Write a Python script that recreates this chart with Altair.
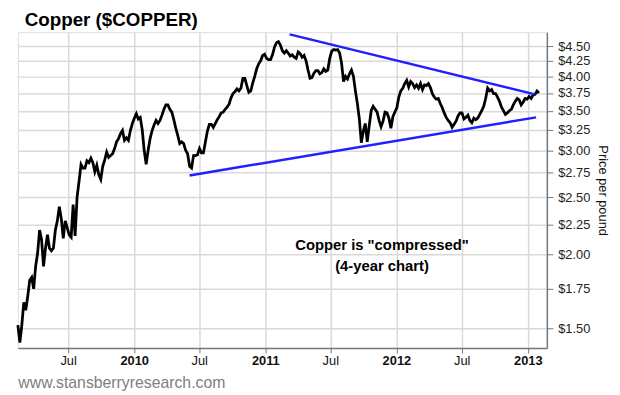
import altair as alt
import pandas as pd

# ---- data ----
start_date = "2009-02-11"
end_date = "2013-02-01"
prices = [
    1.52, 1.42, 1.52, 1.66, 1.61, 1.70, 1.81, 1.83, 1.75, 1.91,
    2.01, 2.20, 2.12, 1.91, 2.05, 2.16, 2.05, 2.03, 2.05, 2.20,
    2.28, 2.41, 2.30, 2.13, 2.28, 2.22, 2.16, 2.14, 2.43, 2.15,
    2.50, 2.66, 2.84, 2.80, 2.80, 2.88, 2.86, 2.91, 2.86, 2.76,
    2.83, 2.73, 2.68, 2.82, 2.89, 2.98, 2.92, 2.94, 2.96, 3.02,
    3.10, 3.14, 3.20, 3.24, 3.12, 3.15, 3.12, 3.24, 3.33, 3.40,
    3.46, 3.39, 3.41, 3.25, 3.00, 2.84, 3.00, 3.14, 3.24, 3.31,
    3.37, 3.33, 3.37, 3.44, 3.52, 3.58, 3.58, 3.52, 3.48, 3.38,
    3.27, 3.18, 3.08, 3.10, 3.08, 3.00, 2.96, 2.82, 2.80, 2.94,
    2.94, 2.95, 3.02, 2.97, 2.97, 3.10, 3.23, 3.32, 3.32, 3.28,
    3.33, 3.38, 3.42, 3.47, 3.48, 3.52, 3.55, 3.59, 3.68, 3.74,
    3.77, 3.81, 3.78, 3.82, 3.97, 3.97, 3.86, 3.76, 3.78, 3.90,
    4.00, 4.12, 4.20, 4.25, 4.34, 4.36, 4.29, 4.27, 4.27, 4.35,
    4.48, 4.56, 4.58, 4.52, 4.42, 4.38, 4.42, 4.38, 4.33, 4.35,
    4.31, 4.29, 4.40, 4.37, 4.31, 4.34, 4.25, 4.10, 3.97, 3.98,
    4.05, 4.09, 4.09, 4.04, 4.06, 4.12, 4.08, 4.10, 4.29, 4.41,
    4.44, 4.43, 4.44, 4.38, 4.21, 3.92, 4.00, 3.96, 4.04, 4.10,
    4.00, 3.78, 3.60, 3.39, 3.09, 3.23, 3.33, 3.10, 3.30, 3.50,
    3.56, 3.52, 3.48, 3.37, 3.29, 3.36, 3.48, 3.47, 3.40, 3.27,
    3.42, 3.48, 3.54, 3.69, 3.78, 3.82, 3.89, 3.94, 3.84, 3.92,
    3.89, 3.83, 3.87, 3.82, 3.89, 3.80, 3.87, 3.86, 3.89, 3.83,
    3.74, 3.69, 3.66, 3.67, 3.60, 3.54, 3.47, 3.41, 3.37, 3.34,
    3.28, 3.32, 3.36, 3.43, 3.47, 3.47, 3.39, 3.41, 3.44, 3.37,
    3.34, 3.40, 3.38, 3.40, 3.45, 3.50, 3.56, 3.67, 3.82, 3.78,
    3.80, 3.74, 3.74, 3.69, 3.63, 3.55, 3.50, 3.45, 3.47, 3.50,
    3.52, 3.58, 3.63, 3.67, 3.65, 3.58, 3.62, 3.67, 3.66, 3.70,
    3.67, 3.72, 3.73, 3.78, 3.75,
]

upper_dates = ["2011-03-10", "2013-01-21"]
upper_prices = [4.71, 3.73]
lower_dates = ["2010-06-04", "2013-01-24"]
lower_prices = [2.72, 3.41]

y_ticks = [1.50, 1.75, 2.00, 2.25, 2.50, 2.75, 3.00, 3.25, 3.50, 3.75, 4.00, 4.25, 4.50]
x_tick_years = [2009, 2010, 2010, 2011, 2011, 2012, 2012, 2013]
x_tick_months = [7, 1, 7, 1, 7, 1, 7, 1]

note_date = "2011-11-22"
note_price = 2.035
note_text = 'Copper is "compressed"\n(4-year chart)'

title_text = "Copper ($COPPER)"
footer_text = "www.stansberryresearch.com"
y_title = "Price per pound"

# ---- tables ----
series = pd.DataFrame({
    "date": pd.date_range(start_date, end_date, periods=len(prices)),
    "price": prices,
})
trend = pd.DataFrame({
    "date": pd.to_datetime(upper_dates + lower_dates),
    "price": upper_prices + lower_prices,
    "seg": ["upper"] * len(upper_dates) + ["lower"] * len(lower_dates),
})
note = pd.DataFrame({"date": pd.to_datetime([note_date]), "price": [note_price], "label": [note_text]})
heading = pd.DataFrame({"label": [title_text]})

BASE = "Liberation Sans, Arial, sans-serif"

x_scale = alt.Scale(domain=[alt.DateTime(year=2009, month=2, date=11),
                            alt.DateTime(year=2013, month=2, date=23)])
y_scale = alt.Scale(type="log", domain=[1.39, 4.75], nice=False)

x_axis = alt.Axis(
    values=[alt.DateTime(year=y, month=m, date=1) for y, m in zip(x_tick_years, x_tick_months)],
    labelExpr="month(datum.value) == 0 ? timeFormat(datum.value, '%Y') : timeFormat(datum.value, '%b')",
    labelFontWeight={"condition": {"test": "month(datum.value) == 0", "value": "bold"}, "value": "normal"},
    labelFontSize=13, labelFont=BASE, labelColor="#111", labelPadding=2,
    tickSize=5, tickColor="#777", domainColor="#777", domainWidth=1.5,
    grid=True, gridColor="#d9d9d9", gridWidth=1.5,
    title=footer_text, titleAnchor="start", titleAlign="left", titleX=0, titleY=40,
    titleBaseline="alphabetic", titleFontWeight="normal", titleFontSize=16, titleFont=BASE,
    titleColor="#808080",
)
y_axis = alt.Axis(
    orient="right", values=y_ticks, format="$.2f",
    labelFontSize=13, labelFont=BASE, labelColor="#222", labelPadding=5,
    tickSize=6, tickColor="#777", domainColor="#777", domainWidth=1.5,
    grid=True, gridColor="#d9d9d9", gridWidth=1.5,
    title=y_title, titleFontSize=13, titleFont=BASE, titleFontWeight="normal",
    titleColor="#111", titlePadding=6,
)

base = alt.Chart(series)
line = base.mark_line(color="black", strokeWidth=2.8).encode(
    x=alt.X("date:T", scale=x_scale, axis=x_axis),
    y=alt.Y("price:Q", scale=y_scale, axis=y_axis),
)
trend_lines = alt.Chart(trend).mark_line(color="#1f1fff", strokeWidth=2.5).encode(
    x=alt.X("date:T", scale=x_scale),
    y=alt.Y("price:Q", scale=y_scale),
    detail="seg:N",
)
text = alt.Chart(note).mark_text(
    align="center", baseline="alphabetic", fontSize=15, fontWeight="bold",
    font=BASE, lineBreak="\n", lineHeight=21, color="black",
).encode(
    x=alt.X("date:T", scale=x_scale),
    y=alt.Y("price:Q", scale=y_scale),
    text="label:N",
)
title_mark = alt.Chart(heading).mark_text(
    align="left", baseline="alphabetic", fontSize=19, fontWeight="bold",
    font=BASE, color="black",
).encode(
    x=alt.value(7), y=alt.value(-6), text="label:N",
)

chart = alt.layer(line, trend_lines, text, title_mark).properties(
    width=536, height=320,
    autosize=alt.AutoSizeParams(type="none"),
    padding={"left": 10, "top": 22, "right": 66, "bottom": 42},
).configure_view(stroke="#777", strokeWidth=1.5).configure(background="white")

chart.save("out.html", embed_options={"renderer": "svg", "actions": False})
